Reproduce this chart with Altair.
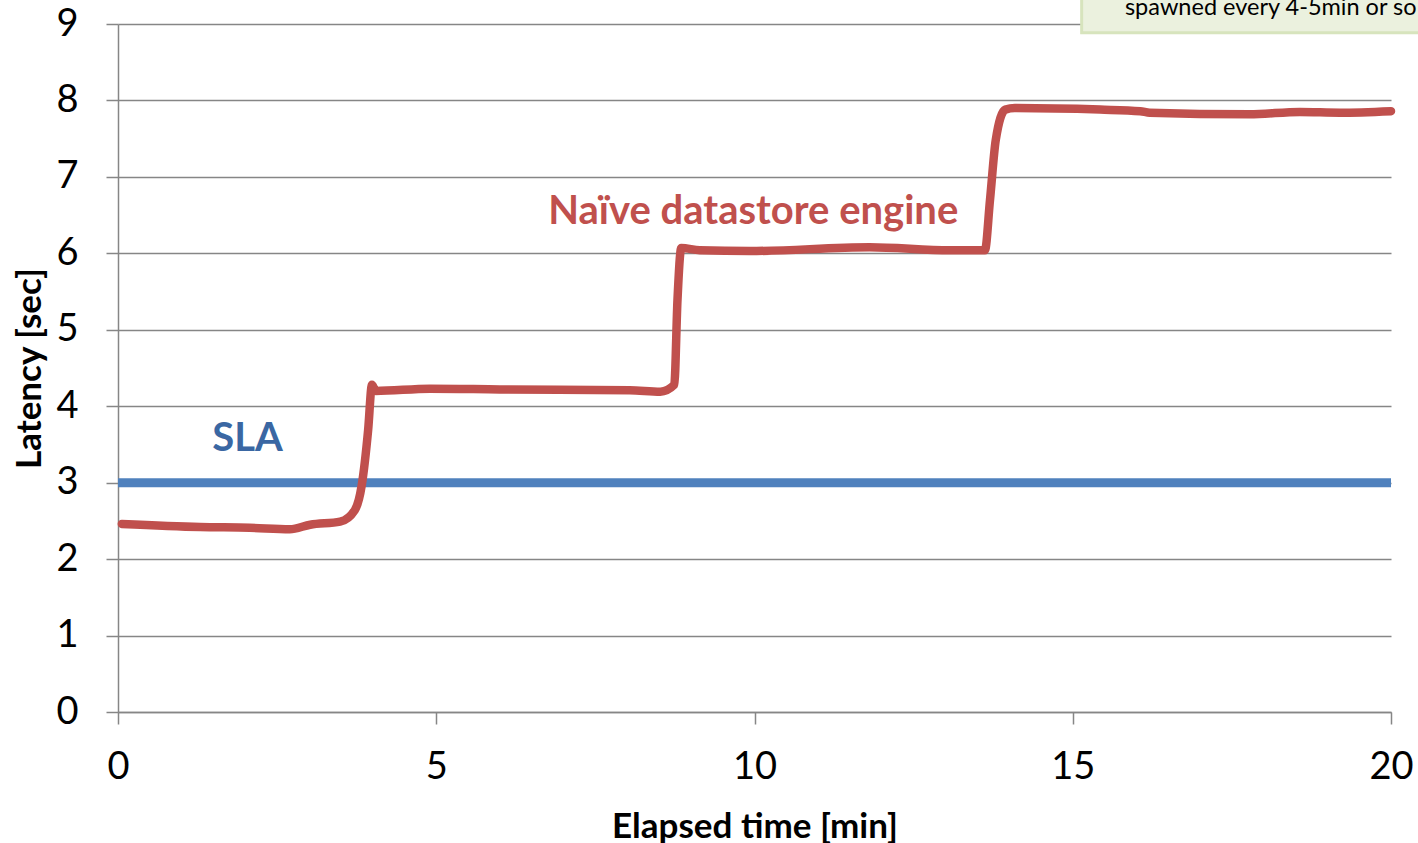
import altair as alt
import pandas as pd

# Naive datastore engine latency
t_min = [0.06, 1.29, 2.07, 2.70, 3.02, 3.49, 3.72, 3.83, 3.93, 3.99, 4.05, 4.90, 6.00,
         8.04, 8.52, 8.74, 8.79, 8.85, 9.14, 9.93, 11.81, 13.07, 13.62, 13.70, 13.79,
         13.94, 14.09, 15.43, 16.06, 16.21, 17.78, 18.57, 19.20, 20.0]
latency = [2.46, 2.42, 2.41, 2.39, 2.45, 2.49, 2.64, 2.97, 3.69, 4.28, 4.20, 4.23, 4.22,
           4.21, 4.19, 4.28, 5.39, 6.07, 6.04, 6.03, 6.08, 6.04, 6.04, 6.70, 7.48,
           7.88, 7.90, 7.88, 7.86, 7.84, 7.82, 7.85, 7.84, 7.86]

sla_x = [0, 20]
sla_y = [3, 3]

x_ticks = [0, 5, 10, 15, 20]
y_ticks = [0, 1, 2, 3, 4, 5, 6, 7, 8, 9]

labels_text = ["Naïve datastore engine", "SLA"]
labels_x = [9.98, 2.035]
labels_y = [6.535, 3.57]
labels_color = ["#C0504D", "#3A67A3"]

note_text = ["spawned every 4-5min or so"]

FONT = "Lato"

df = pd.DataFrame({"t": t_min, "lat": latency})
sla = pd.DataFrame({"t": sla_x, "lat": sla_y})
lab = pd.DataFrame({"text": labels_text, "x": labels_x, "y": labels_y, "c": labels_color})
note = pd.DataFrame({"x": [15.14], "x2": [24.0], "y": [8.885], "y2": [9.8],
                     "tx": [15.82], "ty": [9.118], "text": note_text})

xs = alt.Scale(domain=[0, 20], nice=False, zero=False)
ys = alt.Scale(domain=[0, 9], nice=False)

xaxis = alt.Axis(values=x_ticks, title="Elapsed time [min]", grid=False, format="d",
                 labelFlush=False, labelOverlap=False,
                 labelFontSize=38, labelFont=FONT, labelColor="#000000", labelPadding=24,
                 tickSize=12, tickColor="#868686", tickWidth=1.5,
                 domainColor="#868686", domainWidth=1.5,
                 titleFont=FONT, titleFontSize=35, titleFontWeight="bold", titleColor="#000000",
                 titlePadding=23)
yaxis = alt.Axis(values=y_ticks, title="Latency [sec]", grid=True, gridColor="#868686",
                 gridWidth=1.5, format="d", labelFlush=False, labelOverlap=False,
                 labelFontSize=38, labelFont=FONT, labelColor="#000000",
                 labelPadding=28, tickSize=12, tickColor="#868686", tickWidth=1.5,
                 domainColor="#868686", domainWidth=1.5,
                 titleFont=FONT, titleFontSize=35, titleFontWeight="bold", titleColor="#000000",
                 titlePadding=8)

base_sla = alt.Chart(sla).mark_line(color="#4F81BD", strokeWidth=9).encode(
    x=alt.X("t:Q", scale=xs, axis=xaxis),
    y=alt.Y("lat:Q", scale=ys, axis=yaxis),
)

line = alt.Chart(df).mark_line(color="#C0504D", strokeWidth=8.5, strokeCap="round",
                               strokeJoin="round", interpolate="monotone").encode(
    x=alt.X("t:Q", scale=xs),
    y=alt.Y("lat:Q", scale=ys),
)

texts = alt.Chart(lab).mark_text(font=FONT, fontSize=40, fontWeight="bold", align="center",
                                 baseline="middle").encode(
    x=alt.X("x:Q", scale=xs),
    y=alt.Y("y:Q", scale=ys),
    text="text:N",
    color=alt.Color("c:N", scale=None),
)

box = alt.Chart(note).mark_rect(fill="#EBF1DE", stroke="#D7E4BD", strokeWidth=3).encode(
    x=alt.X("x:Q", scale=xs), x2="x2:Q",
    y=alt.Y("y:Q", scale=ys), y2="y2:Q",
)
note_t = alt.Chart(note).mark_text(font=FONT, fontSize=23.5, align="left",
                                   baseline="alphabetic", color="#000000").encode(
    x=alt.X("tx:Q", scale=xs),
    y=alt.Y("ty:Q", scale=ys),
    text="text:N",
)

chart = alt.layer(base_sla, line, texts, box, note_t).properties(
    width=1273, height=688,
    autosize=alt.AutoSizeParams(type="none"),
    padding={"left": 118, "top": 24, "right": 27, "bottom": 131},
    background="white",
).configure_view(stroke=None)

chart.save("out.html", embed_options={"renderer": "svg", "actions": False})
